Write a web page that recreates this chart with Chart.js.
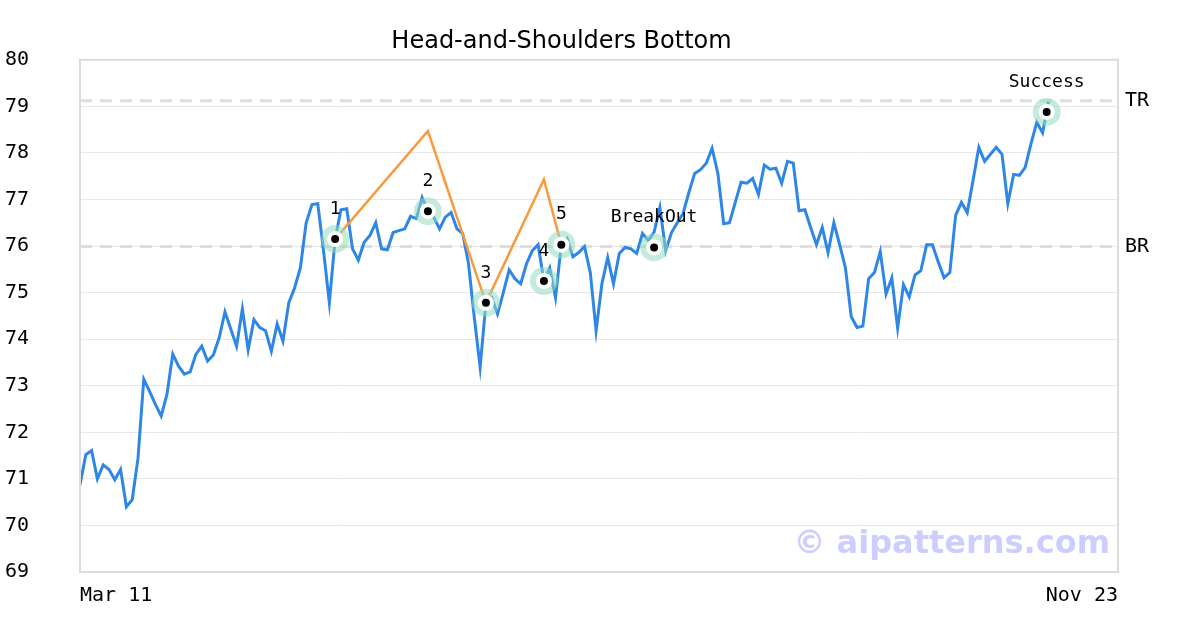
<!DOCTYPE html>
<html><head><meta charset="utf-8">
<script src="https://cdn.jsdelivr.net/npm/chart.js@4/dist/chart.umd.min.js"></script>
<style>html,body{margin:0;padding:0;background:#fff}canvas{display:block}</style>
</head><body>
<canvas id="c" width="1200" height="630"></canvas>
<script>
const chartTitle = "Head-and-Shoulders Bottom";
const xTickLabels = ["Mar 11", "Nov 23"];
const xMax = 179;
const prices = [70.87,71.52,71.61,71.0,71.3,71.2,70.98,71.2,70.4,70.55,
71.44,73.14,72.88,72.6,72.35,72.82,73.68,73.42,73.25,73.3,
73.68,73.85,73.53,73.66,74.03,74.59,74.22,73.85,74.65,73.77,
74.42,74.25,74.18,73.74,74.33,73.96,74.78,75.1,75.53,76.5,
76.89,76.91,75.9,74.78,76.15,76.78,76.8,75.94,75.7,76.08,
76.23,76.5,75.94,75.92,76.29,76.33,76.37,76.64,76.59,77.04,
76.75,76.62,76.37,76.62,76.72,76.37,76.27,75.62,74.46,73.4,
74.78,74.89,74.54,75.0,75.49,75.3,75.19,75.62,75.9,76.03,
75.25,75.53,74.89,76.03,76.16,75.77,75.86,75.99,75.43,74.18,
75.19,75.75,75.19,75.84,75.97,75.94,75.84,76.27,76.12,76.3,
76.83,75.9,76.29,76.5,76.7,77.15,77.56,77.64,77.78,78.1,
77.56,76.48,76.5,76.94,77.37,77.35,77.45,77.11,77.74,77.65,
77.67,77.35,77.82,77.78,76.76,76.78,76.4,76.03,76.4,75.86,
76.5,76.03,75.53,74.48,74.25,74.28,75.3,75.43,75.88,74.97,
75.32,74.24,75.17,74.91,75.38,75.47,76.03,76.03,75.66,75.32,
75.43,76.66,76.94,76.72,77.41,78.12,77.82,77.97,78.12,77.97,
76.91,77.54,77.52,77.69,78.2,78.66,78.43,79.1];
const markerX = [44, 60, 70, 80, 83, 99, 166.7];
const markerY = [76.15, 76.75, 74.78, 75.25, 76.03, 75.97, 78.88];
const markerText = ["1", "2", "3", "4", "5", "BreakOut", "Success"];
const patternX = [44, 60, 70, 80, 83];
const patternY = [76.15, 78.47, 74.78, 77.43, 76.03];
const levelNames = ["TR", "BR"];
const levelValues = [79.12, 75.99];
const watermark = "© aipatterns.com";

const mono = "'DejaVu Sans Mono', monospace";
const pts = (xs, ys) => xs.map((x, i) => ({x: x, y: ys[i]}));

const datasets = [
  {data: prices.map((v,i)=>({x:i,y:v})), borderColor:'#2e86e6', borderWidth:3, pointRadius:0, tension:0, order:5},
  {data: pts(patternX, patternY), borderColor:'#f89a3e', borderWidth:2.5, pointRadius:0, tension:0, order:4},
];
levelValues.forEach(v => datasets.push({data:[{x:0,y:v},{x:xMax,y:v}], borderColor:'#dedede', borderWidth:3, borderDash:[12,8], pointRadius:0, order:6}));
datasets.push({type:'scatter', data: pts(markerX, markerY), pointRadius:14, pointBackgroundColor:'rgba(150,220,190,0.55)', pointBorderWidth:0, order:3});
datasets.push({type:'scatter', data: pts(markerX, markerY), pointRadius:8, pointBackgroundColor:'#ffffff', pointBorderWidth:0, order:2});
datasets.push({type:'scatter', data: pts(markerX, markerY), pointRadius:4, pointBackgroundColor:'#000000', pointBorderWidth:0, order:1});

const overlay = {
  id:'overlay',
  afterDatasetsDraw(chart){
    const {ctx, chartArea:a, scales:{x, y}} = chart;
    ctx.save();
    ctx.strokeStyle = '#dcdcdc'; ctx.lineWidth = 2;
    ctx.strokeRect(a.left, a.top, a.right - a.left, a.bottom - a.top);
    ctx.fillStyle = '#000'; ctx.font = '18px ' + mono; ctx.textAlign = 'center'; ctx.textBaseline = 'middle';
    markerText.forEach((t,i) => ctx.fillText(t, x.getPixelForValue(markerX[i]), y.getPixelForValue(markerY[i]) - 30));
    ctx.font = '20px ' + mono; ctx.textAlign = 'left';
    levelNames.forEach((t,i) => ctx.fillText(t, a.right + 7, y.getPixelForValue(levelValues[i])));
    ctx.font = 'bold 32px "DejaVu Sans", sans-serif'; ctx.fillStyle = 'rgba(200,200,255,0.9)'; ctx.textAlign = 'right';
    ctx.fillText(watermark, a.right - 8, a.bottom - 27);
    ctx.restore();
  }
};

new Chart(document.getElementById('c'), {
  type:'line',
  data:{datasets},
  options:{
    responsive:false, animation:false,
    layout:{padding:{left:5, right:82, top:0, bottom:18}},
    plugins:{legend:{display:false}, tooltip:{enabled:false},
      title:{display:true, text:chartTitle, color:'#000', font:{family:'DejaVu Sans', size:24, weight:'normal'}, padding:{top:27, bottom:4}}},
    scales:{
      x:{type:'linear', min:0, max:xMax, grid:{display:false}, border:{display:false},
        afterBuildTicks: ax => { ax.ticks = [{value:0},{value:xMax}]; },
        ticks:{align:'inner', maxRotation:0, color:'#000', font:{family:'DejaVu Sans Mono', size:20}, padding:4,
          callback:(v)=> v===0 ? xTickLabels[0] : xTickLabels[1]}},
      y:{min:69, max:80, grid:{color:'#e8e8e8', lineWidth:1, tickColor:'rgba(0,0,0,0)'}, border:{display:false},
        afterFit: ax => { ax.width = 75; },
        ticks:{stepSize:1, crossAlign:'far', color:'#000', font:{family:'DejaVu Sans Mono', size:20}}}
    }
  },
  plugins:[overlay]
});
</script>
</body></html>
